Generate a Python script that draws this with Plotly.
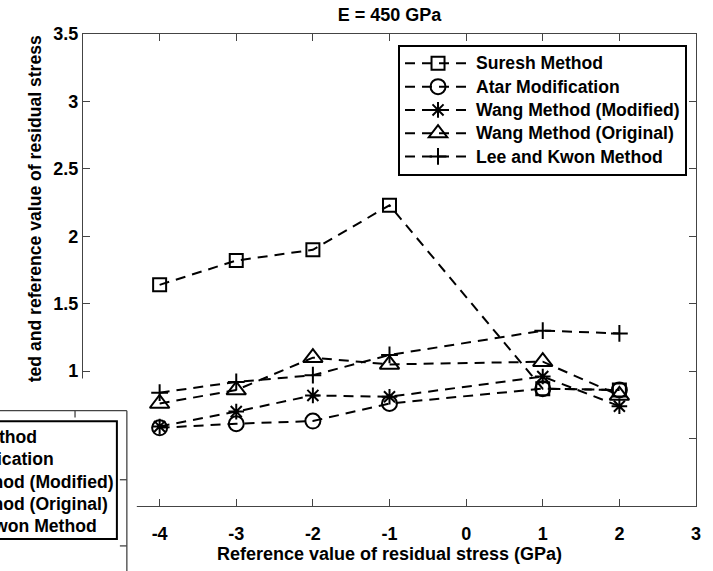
import plotly.graph_objects as go

# ---------------- data ----------------
x_vals = [-4, -3, -2, -1, 1, 2]
suresh = [1.64, 1.82, 1.90, 2.23, 0.87, 0.86]
atar = [0.58, 0.61, 0.63, 0.76, 0.87, 0.86]
wang_mod = [0.59, 0.70, 0.82, 0.81, 0.96, 0.74]
wang_orig = [0.76, 0.86, 1.10, 1.05, 1.07, 0.82]
lee_kwon = [0.84, 0.92, 0.97, 1.12, 1.30, 1.28]

series_names = ["Suresh Method", "Atar Modification", "Wang Method (Modified)",
                "Wang Method (Original)", "Lee and Kwon Method"]

x_tick_vals = [-5, -4, -3, -2, -1, 0, 1, 2, 3]
x_tick_text = ["", "-4", "-3", "-2", "-1", "0", "1", "2", "3"]  # -5 hidden in the original
y_tick_vals = [0, 0.5, 1, 1.5, 2, 2.5, 3, 3.5]
y_tick_text = ["", "", "1", "1.5", "2", "2.5", "3", "3.5"]  # 0 and 0.5 hidden in the original

title_text = "E = 450 GPa"
x_title = "Reference value of residual stress (GPa)"
y_title_visible = "ted and reference value of residual stress"

# ---------------- layout geometry (pixels) ----------------
W, H = 713, 571
L, R, T, B = 83, 698, 34, 519
PW, PH = R - L, B - T


def px(xp):
    return (xp - L) / PW


def py(yp):
    return (B - yp) / PH


FONT = "Liberation Sans, Arial, sans-serif"
AXC = "#444444"
FS = 17.6

styles = [
    dict(symbol="square-open", size=13),
    dict(symbol="circle-open", size=15),
    dict(symbol="asterisk-open", size=13),
    dict(symbol="triangle-up-open", size=17),
    dict(symbol="cross-thin-open", size=12),
]
values = [suresh, atar, wang_mod, wang_orig, lee_kwon]

fig = go.Figure()
for name, vals, st in zip(series_names, values, styles):
    fig.add_trace(go.Scatter(
        x=x_vals, y=vals, mode="lines+markers",
        name='<span style="font-size:%spx">%s</span>' % (FS, name),
        line=dict(color="black", width=2, dash="10px,7px"),
        marker=dict(symbol=st["symbol"], size=st["size"], color="black",
                    line=dict(color="black", width=2)),
    ))

shapes = []
# white patch from the neighbouring (cropped) figure
shapes.append(dict(type="rect", xref="paper", yref="paper", layer="above",
                   x0=px(-20), x1=px(137), y0=py(388), y1=py(600),
                   fillcolor="white", line=dict(width=0)))
# neighbour axes frame
shapes.append(dict(type="line", xref="paper", yref="paper", layer="above",
                   x0=px(-20), x1=px(127), y0=py(421), y1=py(421),
                   line=dict(color=AXC, width=1.3)))
shapes.append(dict(type="line", xref="paper", yref="paper", layer="above",
                   x0=px(127), x1=px(127), y0=py(421), y1=py(600),
                   line=dict(color=AXC, width=1.3)))
shapes.append(dict(type="line", xref="paper", yref="paper", layer="above",
                   x0=px(75), x1=px(75), y0=py(421), y1=py(428),
                   line=dict(color=AXC, width=1.3)))
for ty in (492, 560):
    shapes.append(dict(type="line", xref="paper", yref="paper", layer="above",
                       x0=px(120), x1=px(127), y0=py(ty), y1=py(ty),
                       line=dict(color=AXC, width=1.3)))
# neighbour legend box
shapes.append(dict(type="rect", xref="paper", yref="paper", layer="above",
                   x0=px(-200), x1=px(117), y0=py(553), y1=py(432),
                   fillcolor="white", line=dict(color="black", width=2)))

annotations = []
for i, name in enumerate(series_names):
    yc = [448, 471, 494, 517, 540][i]
    annotations.append(dict(text=name, xref="paper", yref="paper",
                            x=px(-93), y=py(yc), xanchor="left", yanchor="middle",
                            showarrow=False,
                            font=dict(family=FONT, size=FS, color="black", weight="bold")))
annotations.append(dict(text=y_title_visible, xref="paper", yref="paper",
                        x=px(35), y=py(214), xanchor="center", yanchor="middle",
                        textangle=-90, showarrow=False,
                        font=dict(family=FONT, size=FS, color="black", weight="bold")))

axis_common = dict(showline=True, linecolor=AXC, linewidth=1.3, mirror="ticks",
                   ticks="inside", ticklen=7, tickcolor=AXC, tickwidth=1.3,
                   showgrid=False, zeroline=False,
                   tickfont=dict(family=FONT, size=18, color="black", weight="bold"))

fig.update_layout(
    width=W, height=H,
    margin=dict(l=L, r=W - R, t=T, b=H - B, pad=0),
    paper_bgcolor="white", plot_bgcolor="white",
    font=dict(family=FONT, size=18, color="black"),
    title=dict(text=title_text, x=0.5, xref="paper", xanchor="center",
               y=1 - 15 / H, yref="container", yanchor="middle",
               font=dict(family=FONT, size=18, color="black", weight="bold")),
    xaxis=dict(range=[-5, 3], tickvals=x_tick_vals, ticktext=x_tick_text,
               ticklabelstandoff=11,
               title=dict(text=x_title, standoff=3,
                          font=dict(family=FONT, size=18, color="black", weight="bold")),
               **axis_common),
    yaxis=dict(range=[0, 3.5], tickvals=y_tick_vals, ticktext=y_tick_text,
               **axis_common),
    legend=dict(x=px(689), y=py(45), xanchor="right", yanchor="top",
                bgcolor="white", bordercolor="black", borderwidth=2,
                font=dict(family=FONT, size=15.6, color="black", weight="bold"),
                itemwidth=66, tracegroupgap=0),
    shapes=shapes, annotations=annotations,
)

fig.write_html("out.html", config={"displayModeBar": False},
               post_script="document.body.style.margin='0';")
